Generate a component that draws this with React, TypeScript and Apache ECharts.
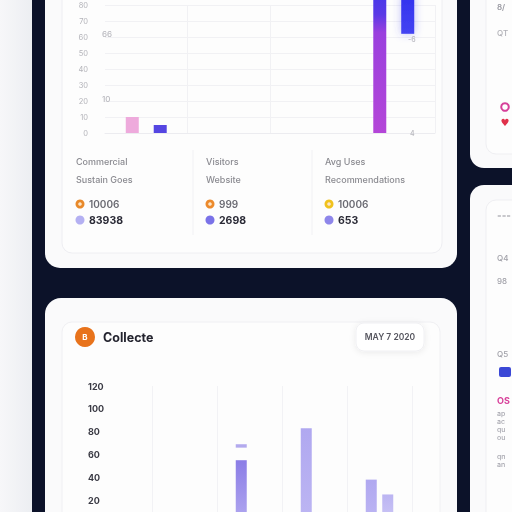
import React, { useEffect, useRef } from "react";
import * as echarts from "echarts";

// ---- Top chart data ----
const topCategories = ["Jan", "Feb", "Mar", "Apr"];
const topPrimary: (number | string)[] = [10, "-", "-", 95];
const topSecondaryBase: (number | string)[] = ["-", "-", "-", 62];
const topSecondary: (number | string)[] = [5, "-", "-", 25];

// ---- Stats ----
const statTitles = ["Commercial", "Visitors", "Avg Uses"];
const statSubtitles = ["Sustain Goes", "Website", "Recommendations"];
const statFirst = ["10006", "999", "10006"];
const statSecond = ["83938", "2698", "653"];
const statFirstColors = ["#e8892a", "#ec8a2c", "#f0c21e"];
const statSecondColors = ["#b4b0f2", "#7a72e8", "#8e86ea"];

// ---- Bottom chart data ----
const bottomCategories = ["Q1", "Q2", "Q3", "Q4"];
const bottomPrimary: (number | string)[] = ["-", 55, 83, 38];
const bottomGap: (number | string)[] = ["-", 11, "-", "-"];
const bottomTarget: (number | string)[] = ["-", 3, "-", "-"];
const bottomSecondary: (number | string)[] = ["-", "-", "-", 25];

const DARK = "#0c1229";
const FONT = "Inter, 'Noto Sans', sans-serif";

export default function App() {
  const ref = useRef<HTMLDivElement>(null);
  useEffect(() => {
    if (!ref.current) return;
    const chart = echarts.init(ref.current, undefined, { renderer: "svg" });

    const bg: any[] = [
      { type: "rect", z: -100, shape: { x: 0, y: 0, width: 512, height: 512 }, style: { fill: DARK } },
      {
        type: "rect", z: -99, shape: { x: 0, y: 0, width: 32, height: 512 },
        style: { fill: new echarts.graphic.LinearGradient(0, 0, 1, 0, [{ offset: 0, color: "#f7f7f9" }, { offset: 1, color: "#eceef2" }]) },
      },
      // top card
      { type: "rect", z: -98, shape: { x: 45, y: -30, width: 412, height: 298, r: 15 }, style: { fill: "#fafafb" } },
      { type: "rect", z: -97, shape: { x: 62, y: -20, width: 380, height: 273, r: 10 }, style: { fill: "#fdfdfd", stroke: "#eeeef2", lineWidth: 1 } },
      // bottom card
      { type: "rect", z: -98, shape: { x: 45, y: 298, width: 412, height: 240, r: 16 }, style: { fill: "#fafafb" } },
      { type: "rect", z: -97, shape: { x: 62, y: 322, width: 378, height: 220, r: 10 }, style: { fill: "#fdfdfd", stroke: "#f0f0f3", lineWidth: 1 } },
      // right cards
      { type: "rect", z: -98, shape: { x: 470, y: -30, width: 70, height: 198, r: 14 }, style: { fill: "#fafafb" } },
      { type: "rect", z: -97, shape: { x: 486, y: -20, width: 60, height: 174, r: 10 }, style: { fill: "#fdfdfd", stroke: "#efeff2", lineWidth: 1 } },
      { type: "rect", z: -98, shape: { x: 470, y: 185, width: 70, height: 350, r: 14 }, style: { fill: "#fafafb" } },
      { type: "rect", z: -97, shape: { x: 486, y: 200, width: 60, height: 330, r: 10 }, style: { fill: "#fdfdfd", stroke: "#efeff2", lineWidth: 1 } },
      // stat dividers
      { type: "line", z: -90, shape: { x1: 193, y1: 150, x2: 193, y2: 235 }, style: { stroke: "#f1f1f4", lineWidth: 1 } },
      { type: "line", z: -90, shape: { x1: 312, y1: 150, x2: 312, y2: 235 }, style: { stroke: "#f1f1f4", lineWidth: 1 } },
    ];

    const txt = (text: string, x: number, y: number, fill: string, font: string, align = "left"): any => ({
      type: "text", z: 10,
      style: { text, x, y, fill, font, textAlign: align, textVerticalAlign: "middle" },
    });

    const statX = [76, 206, 325];
    const stats: any[] = [];
    statX.forEach((x, i) => {
      stats.push(txt(statTitles[i], x, 161, "#8a8a90", `500 9px ${FONT}`));
      stats.push(txt(statSubtitles[i], x, 179, "#8a8a90", `500 9px ${FONT}`));
      stats.push({ type: "circle", z: 10, shape: { cx: x + 4, cy: 204, r: 4.5 }, style: { fill: statFirstColors[i] } });
      stats.push({ type: "circle", z: 11, shape: { cx: x + 4, cy: 204, r: 1.8 }, style: { fill: "#fde6c8" } });
      stats.push(txt(statFirst[i], x + 13, 204, "#6a6a72", `600 10px ${FONT}`));
      stats.push({ type: "circle", z: 10, shape: { cx: x + 4, cy: 220, r: 4.5 }, style: { fill: statSecondColors[i] } });
      stats.push(txt(statSecond[i], x + 13, 220, "#2a2a36", `700 10.5px ${FONT}`));
    });

    const extras: any[] = [
      txt("66", 102, 34, "#b8b8be", `500 8px ${FONT}`),
      txt("10", 102, 99, "#b8b8be", `500 8px ${FONT}`),
      txt("-6", 408, 39, "#b8b8be", `500 7px ${FONT}`),
      txt("4", 410, 133, "#b8b8be", `500 7px ${FONT}`),
      // bottom header
      { type: "circle", z: 10, shape: { cx: 85, cy: 337, r: 10 }, style: { fill: "#e8731c" } },
      txt("B", 85, 337, "#ffffff", `700 8px ${FONT}`, "center"),
      txt("Collecte", 103, 337, "#23232e", `700 12.5px ${FONT}`),
      {
        type: "rect", z: 9, shape: { x: 356, y: 323, width: 68, height: 28, r: 8 },
        style: { fill: "#ffffff", stroke: "#f0f0f3", lineWidth: 1, shadowBlur: 6, shadowColor: "rgba(0,0,0,0.08)", shadowOffsetY: 1 },
      },
      txt("MAY 7 2020", 390, 337, "#55555e", `600 8.5px ${FONT}`, "center"),
      // right side cards
      txt("8/", 497, 7, "#9a9aa2", `600 8px ${FONT}`),
      txt("QT", 497, 33, "#b0b0b6", `500 8px ${FONT}`),
      { type: "circle", z: 10, shape: { cx: 505, cy: 107, r: 3.8 }, style: { fill: "#fff", stroke: "#d6409a", lineWidth: 2 } },
      txt("♥", 505, 122, "#e0304a", `700 10px DejaVu Sans`, "center"),
      txt("===", 497, 215, "#b8b8be", `500 7px ${FONT}`),
      txt("Q4", 497, 258, "#a0a0a8", `500 8px ${FONT}`),
      txt("98", 497, 281, "#a0a0a8", `500 8px ${FONT}`),
      txt("Q5", 497, 354, "#a0a0a8", `500 8px ${FONT}`),
      { type: "rect", z: 10, shape: { x: 499, y: 367, width: 12, height: 10, r: 2 }, style: { fill: "#3b48d6" } },
      txt("OS", 497, 400, "#d8409a", `700 9px ${FONT}`),
      txt("ap", 497, 413, "#a8a8b0", `500 7px ${FONT}`),
      txt("ac", 497, 421, "#a8a8b0", `500 7px ${FONT}`),
      txt("qu", 497, 429, "#a8a8b0", `500 7px ${FONT}`),
      txt("ou", 497, 437, "#a8a8b0", `500 7px ${FONT}`),
      txt("qn", 497, 456, "#a8a8b0", `500 7px ${FONT}`),
      txt("an", 497, 464, "#a8a8b0", `500 7px ${FONT}`),
    ];

    const purpleGrad = new echarts.graphic.LinearGradient(0, 0, 0, 1, [
      { offset: 0, color: "#3a36ec" },
      { offset: 0.22, color: "#5a3ae6" },
      { offset: 0.34, color: "#9a40de" },
      { offset: 1, color: "#b446d8" },
    ]);
    const blueGrad = new echarts.graphic.LinearGradient(0, 0, 0, 1, [
      { offset: 0, color: "#3232ee" },
      { offset: 1, color: "#4444f2" },
    ]);

    const option: any = {
      animation: false,
      backgroundColor: "transparent",
      textStyle: { fontFamily: FONT },
      graphic: [...bg, ...stats, ...extras],
      grid: [
        { left: 105, width: 330, top: 5, height: 128, outerBoundsMode: "none", containLabel: false },
        { left: 152, width: 260, top: 386, height: 137, outerBoundsMode: "none", containLabel: false },
      ],
      xAxis: [
        {
          type: "category", gridIndex: 0, data: topCategories,
          axisLabel: { show: false }, axisTick: { show: false },
          axisLine: { show: true, lineStyle: { color: "#ececf0" } },
          splitLine: { show: true, interval: (i: number) => i === 1 || i === 2, lineStyle: { color: "#f1f1f4" } },
        },
        {
          type: "category", gridIndex: 1, data: bottomCategories,
          axisLabel: { show: false }, axisTick: { show: false }, axisLine: { show: false },
          splitLine: { show: true, lineStyle: { color: "#f2f2f5" } },
        },
      ],
      yAxis: [
        {
          type: "value", gridIndex: 0, min: 0, max: 80, interval: 10,
          axisLabel: { color: "#b4b4ba", fontSize: 7.5, margin: 17 },
          axisLine: { show: false }, axisTick: { show: false },
          splitLine: { lineStyle: { color: "#f1f1f4" } },
        },
        {
          type: "value", gridIndex: 1, min: 0, max: 120, interval: 20,
          axisLabel: { color: "#3a3a44", fontSize: 9, fontWeight: 700, margin: 64, align: "left", showMinLabel: false },
          axisLine: { show: false }, axisTick: { show: false },
          splitLine: { show: false },
        },
      ],
      series: [
        {
          type: "bar", xAxisIndex: 0, yAxisIndex: 0, clip: false, barWidth: 13, barGap: "115%",
          data: topPrimary.map((v, i) => ({
            value: v,
            itemStyle: { color: i === 0 ? "#eeaadc" : purpleGrad },
          })),
        },
        {
          type: "bar", xAxisIndex: 0, yAxisIndex: 0, clip: false, barWidth: 13, stack: "b",
          itemStyle: { color: "transparent" }, data: topSecondaryBase,
        },
        {
          type: "bar", xAxisIndex: 0, yAxisIndex: 0, clip: false, barWidth: 13, stack: "b",
          data: topSecondary.map((v, i) => ({
            value: v,
            itemStyle: i === 0
              ? { color: "#5546e2" }
              : { color: blueGrad, shadowBlur: 8, shadowColor: "rgba(70,70,240,0.35)" },
          })),
        },
        {
          type: "bar", xAxisIndex: 1, yAxisIndex: 1, clip: false, barWidth: 11, barGap: "50%", stack: "a",
          data: bottomPrimary.map((v, i) => ({
            value: v,
            itemStyle: {
              color: i === 1
                ? new echarts.graphic.LinearGradient(0, 0, 0, 1, [
                    { offset: 0, color: "#8b7de6" },
                    { offset: 1, color: "#b2a9f0" },
                  ])
                : new echarts.graphic.LinearGradient(0, 0, 0, 1, [
                    { offset: 0, color: "#b0a8f0" },
                    { offset: 1, color: "#bdb6f3" },
                  ]),
            },
          })),
        },
        {
          type: "bar", xAxisIndex: 1, yAxisIndex: 1, clip: false, barWidth: 11, stack: "a",
          itemStyle: { color: "transparent" }, data: bottomGap,
        },
        {
          type: "bar", xAxisIndex: 1, yAxisIndex: 1, clip: false, barWidth: 11, stack: "a",
          itemStyle: { color: "#b3aaee" }, data: bottomTarget,
        },
        {
          type: "bar", xAxisIndex: 1, yAxisIndex: 1, clip: false, barWidth: 11,
          itemStyle: {
            color: new echarts.graphic.LinearGradient(0, 0, 0, 1, [
              { offset: 0, color: "#bbb4f2" },
              { offset: 1, color: "#cdc8f6" },
            ]),
          },
          data: bottomSecondary,
        },
      ],
    };
    chart.setOption(option);
    return () => chart.dispose();
  }, []);

  return (
    <div
      ref={ref}
      style={{ position: "fixed", left: 0, top: 0, width: 512, height: 512, overflow: "hidden" }}
    />
  );
}
